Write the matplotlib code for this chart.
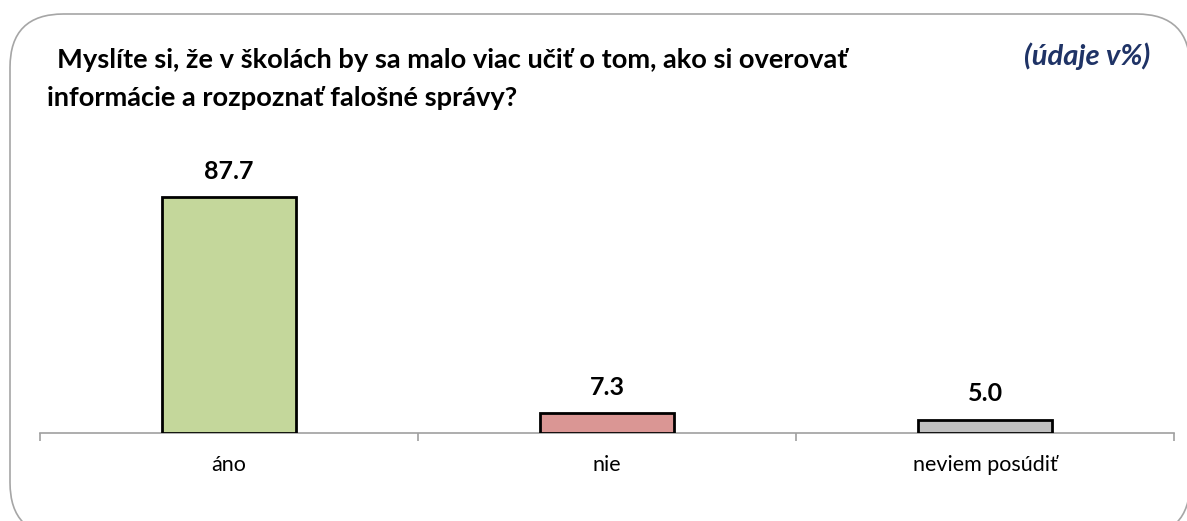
import matplotlib.pyplot as plt
from matplotlib.patches import FancyBboxPatch

plt.rcParams['font.family'] = ['Lato', 'DejaVu Sans']

# data
categories = ['áno', 'nie', 'neviem posúdiť']
values = [87.7, 7.3, 5.0]
colors = ['#C4D79B', '#DA9694', '#BFBFBF']
title_1 = 'Myslíte si, že v školách by sa malo viac učiť o tom, ako si overovať'
title_2 = 'informácie a rozpoznať falošné správy?'
unit_note = '(údaje v%)'

W, H = 1187, 521
fig = plt.figure(figsize=(W / 100, H / 100), dpi=100)

# rounded frame round the whole chart
frame = FancyBboxPatch((10 / W, 1 - 536 / H), 1180 / W, 522 / H,
                       boxstyle='round,pad=0,rounding_size=0.045',
                       transform=fig.transFigure, facecolor='white',
                       edgecolor='#A6A6A6', linewidth=1.2, mutation_aspect=W / H,
                       zorder=-5)
fig.patches.append(frame)

ax = fig.add_axes([40 / W, 1 - 433 / H, 1134 / W, 269 / H])
ax.set_zorder(2)
x = range(len(categories))
bars = ax.bar(x, values, width=0.357, color=colors, edgecolor='black', linewidth=2, zorder=3)
for b, v in zip(bars, values):
    ax.text(b.get_x() + b.get_width() / 2, v + 5.3, f'{v:.1f}', ha='center', va='bottom',
            fontsize=18, fontweight='bold')

ax.set_xlim(-0.5, len(categories) - 0.5)
ax.set_ylim(0, 100)
ax.set_xticks([i - 0.5 for i in range(len(categories) + 1)], minor=False)
ax.set_xticklabels([])
ax.set_xticks(list(x), minor=True)
ax.set_xticklabels(categories, minor=True, fontsize=15.5)
ax.tick_params(axis='x', which='major', length=6, color='#A0A0A0', width=1.2)
ax.tick_params(axis='x', which='minor', length=0, pad=16)
ax.set_yticks([])
for s in ['top', 'right', 'left']:
    ax.spines[s].set_visible(False)
ax.spines['bottom'].set_color('#A0A0A0')
ax.spines['bottom'].set_linewidth(1.2)
ax.patch.set_alpha(0)

fig.text(57 / W, 1 - 60 / H, title_1, fontsize=19.6, fontweight='bold', va='center')
fig.text(47 / W, 1 - 98 / H, title_2, fontsize=19.6, fontweight='bold', va='center')
fig.text(1150 / W, 1 - 56 / H, unit_note, fontsize=21, fontweight='bold', style='italic',
         color='#1F3366', ha='right', va='center')

fig.savefig('out.png', dpi=100)
